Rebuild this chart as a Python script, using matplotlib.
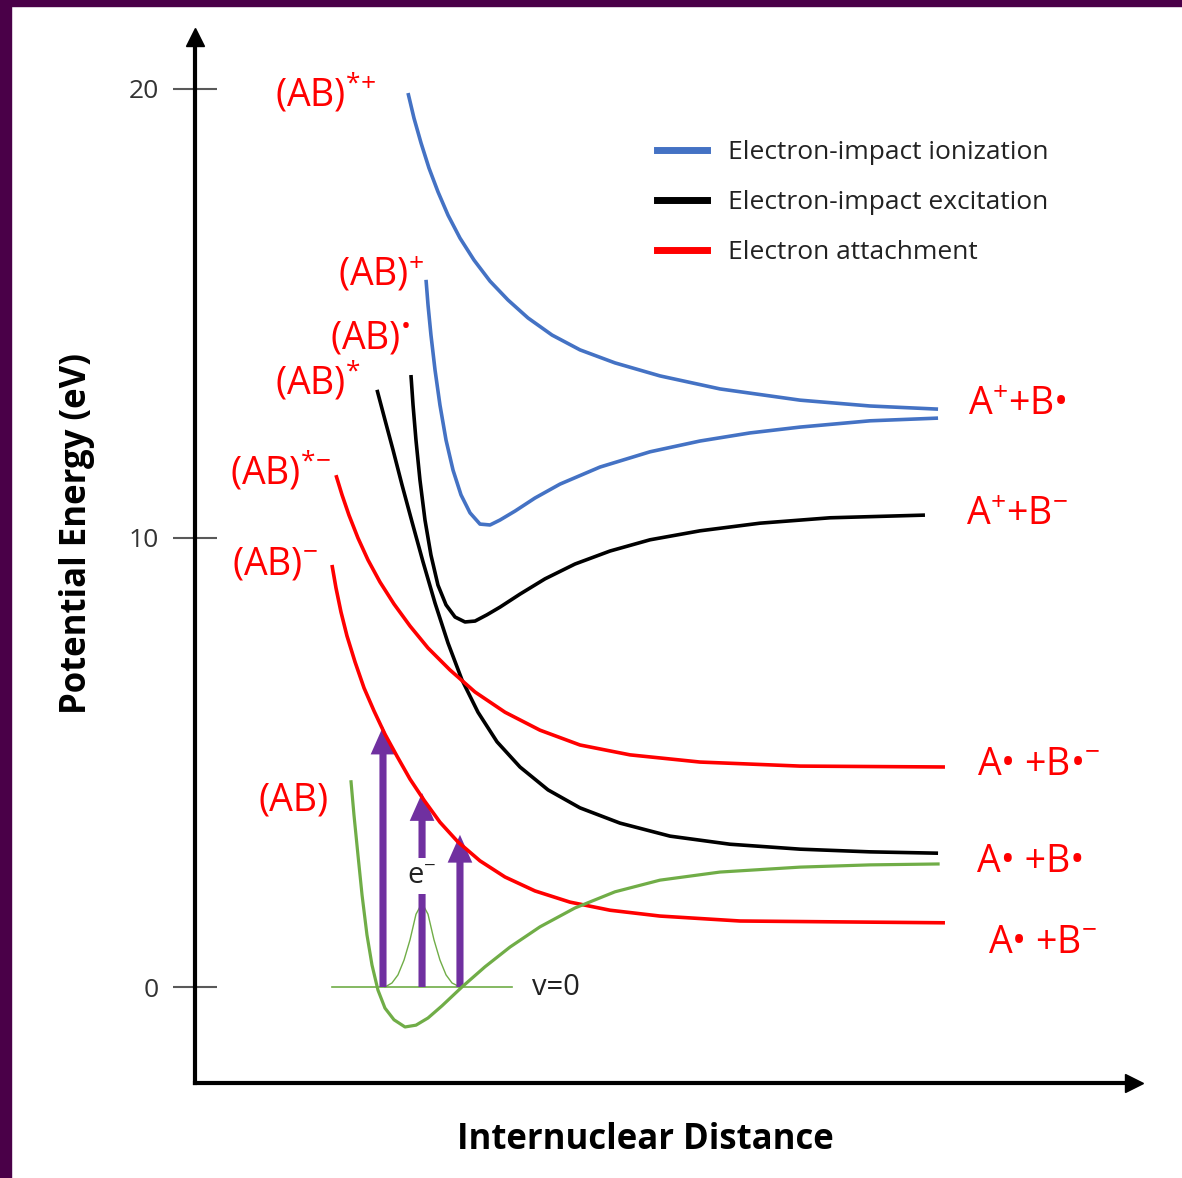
import matplotlib
matplotlib.use("Agg")
import matplotlib.pyplot as plt
from matplotlib.lines import Line2D
from matplotlib.patches import Rectangle

plt.rcParams['font.family'] = ['Open Sans', 'DejaVu Sans']
plt.rcParams['mathtext.fontset'] = 'custom'
plt.rcParams['mathtext.rm'] = 'Open Sans'
plt.rcParams['mathtext.it'] = 'Open Sans:italic'
plt.rcParams['mathtext.bf'] = 'Open Sans:bold'
plt.rcParams['mathtext.default'] = 'regular'

# internuclear distance (arbitrary units) and potential energy (eV)
ion_rep_r = [2.247, 2.310, 2.384, 2.468, 2.563, 2.669, 2.795, 2.943, 3.112, 3.302, 3.513, 3.766, 4.061,
             4.430, 4.905, 5.538, 6.382, 7.120, 7.838]
ion_rep_e = [19.91, 19.35, 18.80, 18.24, 17.71, 17.19, 16.68, 16.19, 15.72, 15.30, 14.90, 14.52, 14.19,
             13.90, 13.61, 13.32, 13.07, 12.94, 12.87]

ion_bnd_r = [2.437, 2.458, 2.489, 2.532, 2.584, 2.648, 2.722, 2.806, 2.901, 3.006, 3.112, 3.217, 3.376,
             3.586, 3.850, 4.272, 4.800, 5.327, 5.854, 6.382, 7.120, 7.838]
ion_bnd_e = [15.75, 15.19, 14.52, 13.74, 12.96, 12.18, 11.51, 10.96, 10.56, 10.31, 10.29, 10.40, 10.60,
             10.89, 11.20, 11.58, 11.92, 12.16, 12.34, 12.47, 12.61, 12.67]

exc_rep_r = [1.920, 2.004, 2.089, 2.184, 2.289, 2.405, 2.532, 2.669, 2.816, 2.985, 3.186, 3.428, 3.724,
             4.061, 4.483, 5.011, 5.643, 6.382, 7.120, 7.838]
exc_rep_e = [13.30, 12.63, 11.96, 11.18, 10.36, 9.47, 8.55, 7.66, 6.84, 6.12, 5.46, 4.90, 4.39,
             3.99, 3.65, 3.36, 3.18, 3.07, 3.01, 2.98]

exc_bnd_r = [2.278, 2.300, 2.331, 2.373, 2.426, 2.489, 2.563, 2.648, 2.743, 2.848, 2.954, 3.080, 3.217,
             3.428, 3.692, 4.008, 4.378, 4.800, 5.327, 5.960, 6.698, 7.700]
exc_bnd_e = [13.63, 12.96, 12.18, 11.29, 10.40, 9.62, 8.95, 8.51, 8.24, 8.13, 8.15, 8.29, 8.46,
             8.75, 9.09, 9.42, 9.71, 9.96, 10.16, 10.33, 10.45, 10.51]

att_exc_r = [1.487, 1.551, 1.624, 1.719, 1.825, 1.951, 2.099, 2.268, 2.458, 2.690, 2.954, 3.270, 3.639,
             4.061, 4.589, 5.327, 6.382, 7.911]
att_exc_e = [11.40, 10.96, 10.51, 10.00, 9.51, 9.02, 8.53, 8.04, 7.55, 7.06, 6.57, 6.12, 5.72,
             5.39, 5.17, 5.01, 4.92, 4.90]

att_r = [1.445, 1.487, 1.540, 1.603, 1.688, 1.783, 1.888, 2.004, 2.131, 2.268, 2.416, 2.584, 2.774,
         3.006, 3.270, 3.586, 3.956, 4.378, 4.905, 5.749, 6.804, 7.911]
att_e = [9.40, 8.89, 8.35, 7.82, 7.24, 6.66, 6.15, 5.63, 5.14, 4.63, 4.16, 3.67, 3.23,
         2.81, 2.45, 2.14, 1.89, 1.71, 1.58, 1.47, 1.45, 1.43]

gnd_r = [1.646, 1.677, 1.719, 1.762, 1.814, 1.867, 1.930, 2.004, 2.099, 2.215, 2.331, 2.458, 2.605,
         2.816, 3.059, 3.323, 3.639, 4.008, 4.430, 4.905, 5.538, 6.382, 7.120, 7.838]
gnd_e = [4.57, 3.83, 2.94, 2.05, 1.16, 0.49, -0.07, -0.47, -0.73, -0.89, -0.85, -0.69, -0.42,
         0.00, 0.45, 0.89, 1.34, 1.76, 2.12, 2.38, 2.56, 2.67, 2.72, 2.74]

# v=0 level and its vibrational wavefunction
v0_r = [1.445, 3.344]
v0_e = [0.0, 0.0]
wf_r = [2.004, 2.078, 2.141, 2.205, 2.268, 2.331, 2.395, 2.458, 2.521, 2.584, 2.648, 2.711, 2.795]
wf_e = [0.0, 0.09, 0.27, 0.60, 1.05, 1.62, 1.87, 1.62, 1.05, 0.60, 0.27, 0.09, 0.0]

# vertical electron-impact transitions
trans_r = [1.983, 2.395, 2.795]
trans_top = [5.80, 4.32, 3.39]

legend_labels = ['Electron-impact ionization', 'Electron-impact excitation', 'Electron attachment']

left_labels = [r'(AB)$^{*\!+}$', r'(AB)$^{+}$', r'(AB)$^{•}$', r'(AB)$^{*}$',
               r'(AB)$^{*\!-}$', r'(AB)$^{-}$', '(AB)']
left_r = [0.844, 1.508, 1.424, 0.844, 0.369, 0.390, 0.665]
left_e = [19.64, 15.63, 14.23, 13.21, 11.22, 9.18, 3.92]

right_labels = [r'A$^{+}$+B•', r'A$^{+}$+B$^{-}$', r'A• +B•$^{-}$', 'A• +B•', r'A• +B$^{-}$']
right_r = [8.154, 8.133, 8.249, 8.249, 8.365]
right_e = [12.74, 10.29, 4.72, 2.56, 0.76]

BLUE = '#4472C4'
RED = '#FF0000'
GREEN = '#70AD47'
PURPLE = '#7030A0'

W, H = 1182, 1178
fig = plt.figure(figsize=(W / 100, H / 100), dpi=100)
fig.patches.append(Rectangle((0, 1 - 6 / H), 1, 6 / H, transform=fig.transFigure, color='#4a0048', zorder=0))
fig.patches.append(Rectangle((0, 0), 11 / W, 1, transform=fig.transFigure, color='#4a0048', zorder=0))

ax = fig.add_axes([195 / W, 1 - 1083 / H, (1134 - 195) / W, (1083 - 37) / H])
ax.set_xlim(0, 9.905)
ax.set_ylim(-2.138, 21.158)

lw = 2.6
style = dict(lw=lw, zorder=3, solid_joinstyle='round', solid_capstyle='butt')
ax.plot(ion_rep_r, ion_rep_e, color=BLUE, **style)
ax.plot(ion_bnd_r, ion_bnd_e, color=BLUE, **style)
ax.plot(exc_rep_r, exc_rep_e, color='black', **style)
ax.plot(exc_bnd_r, exc_bnd_e, color='black', **style)
ax.plot(att_exc_r, att_exc_e, color=RED, **style)
ax.plot(att_r, att_e, color=RED, **style)
ax.plot(gnd_r, gnd_e, color=GREEN, lw=2.3, zorder=3, solid_joinstyle='round')
ax.plot(v0_r, v0_e, color=GREEN, lw=1.2, zorder=1)
ax.plot(wf_r, wf_e, color=GREEN, lw=1.0, zorder=1, solid_joinstyle='round')

for r, top in zip(trans_r, trans_top):
    ax.arrow(r, 0, 0, top, width=0.075, head_width=0.26, head_length=0.62,
             length_includes_head=True, color=PURPLE, lw=0, zorder=2)

ax.text(2.395, 2.47, r'e$^{-}$', fontsize=21, color='#222222', ha='center', va='center', zorder=4,
        bbox=dict(boxstyle='square,pad=0.12', fc='white', ec='none'))
ax.text(3.555, 0.0, 'v=0', fontsize=21, color='#222222', ha='left', va='center')

for s, r, e in zip(left_labels, left_r, left_e):
    ax.text(r, e, s, fontsize=27, color=RED, ha='left', va='baseline')
for s, r, e in zip(right_labels, right_r, right_e):
    ax.text(r, e, s, fontsize=27, color=RED, ha='left', va='baseline')

# axes with arrow heads
for side in ['top', 'right']:
    ax.spines[side].set_visible(False)
for side in ['left', 'bottom']:
    ax.spines[side].set_linewidth(3)
ax.plot([0], [1], marker='^', ms=13, color='black', transform=ax.transAxes, clip_on=False)
ax.plot([1], [0], marker='>', ms=13, color='black', transform=ax.transAxes, clip_on=False)

ax.set_xticks([])
ax.set_yticks([0, 10, 20])
ax.tick_params(axis='y', direction='inout', length=32, width=1.5, colors='#595959',
               labelcolor='#333333', labelsize=19, pad=10)

ax.set_xlabel('Internuclear Distance', fontsize=25, fontweight='bold', va='center')
ax.xaxis.set_label_coords((645 - 195) / 939, (1083 - 1140) / 1046)
ax.set_ylabel('Potential Energy (eV)', fontsize=25, fontweight='bold', va='center')
ax.yaxis.set_label_coords((77 - 195) / 939, (1083 - 533) / 1046)

handles = [Line2D([], [], color=c, lw=5) for c in [BLUE, 'black', RED]]
fig.legend(handles, legend_labels, loc='upper left', bbox_to_anchor=(657 / W, 1 - 140 / H),
           frameon=False, fontsize=19, handlelength=1.9, handletextpad=0.8, labelspacing=0.95,
           borderpad=0, borderaxespad=0, labelcolor='#222222')

fig.savefig('out.png', dpi=100)
